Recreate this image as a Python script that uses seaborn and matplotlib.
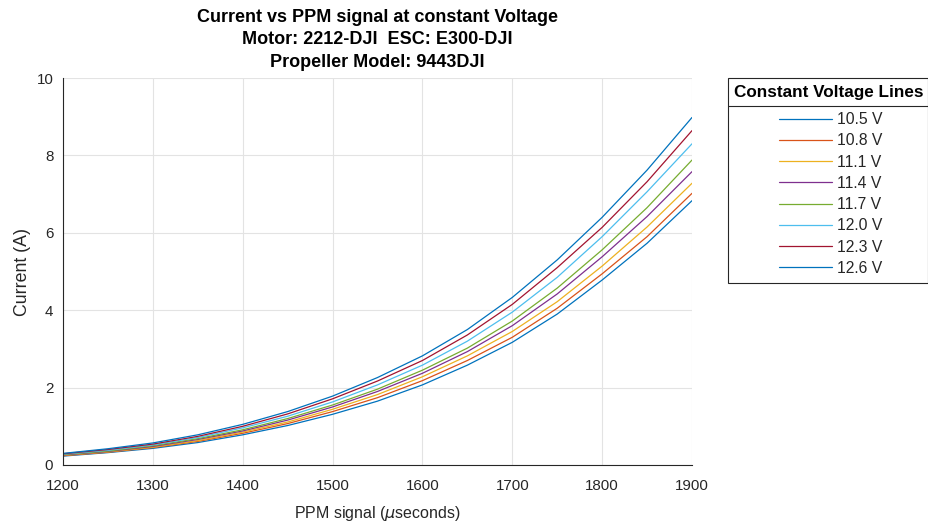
import numpy as np
import pandas as pd
import matplotlib
matplotlib.use("Agg")
import matplotlib.pyplot as plt
import seaborn as sns
from matplotlib.patches import Rectangle
from matplotlib.lines import Line2D

# ---- data ----
ppm = [1200, 1250, 1300, 1350, 1400, 1450, 1500, 1550, 1600, 1650, 1700, 1750, 1800, 1850, 1900]
voltages = ["10.5 V", "10.8 V", "11.1 V", "11.4 V", "11.7 V", "12.0 V", "12.3 V", "12.6 V"]
i_105 = [0.23, 0.32, 0.43, 0.58, 0.78, 1.02, 1.31, 1.65, 2.07, 2.58, 3.17, 3.90, 4.78, 5.73, 6.83]
i_108 = [0.24, 0.33, 0.45, 0.61, 0.82, 1.07, 1.38, 1.74, 2.18, 2.70, 3.30, 4.05, 4.94, 5.90, 7.02]
i_111 = [0.25, 0.34, 0.46, 0.63, 0.85, 1.11, 1.44, 1.82, 2.28, 2.82, 3.45, 4.22, 5.14, 6.15, 7.28]
i_114 = [0.26, 0.35, 0.48, 0.66, 0.88, 1.16, 1.50, 1.90, 2.37, 2.93, 3.60, 4.42, 5.38, 6.42, 7.58]
i_117 = [0.27, 0.36, 0.50, 0.68, 0.91, 1.20, 1.55, 1.96, 2.45, 3.02, 3.72, 4.57, 5.56, 6.65, 7.88]
i_120 = [0.28, 0.38, 0.52, 0.71, 0.96, 1.26, 1.63, 2.07, 2.58, 3.20, 3.95, 4.85, 5.90, 7.06, 8.30]
i_123 = [0.29, 0.40, 0.54, 0.74, 1.00, 1.32, 1.71, 2.17, 2.70, 3.36, 4.15, 5.10, 6.14, 7.32, 8.64]
i_126 = [0.30, 0.42, 0.57, 0.78, 1.05, 1.38, 1.78, 2.26, 2.82, 3.50, 4.33, 5.30, 6.40, 7.62, 8.98]
series = [i_105, i_108, i_111, i_114, i_117, i_120, i_123, i_126]
colors = ["#0072BD", "#D95319", "#EDB120", "#7E2F8E", "#77AC30", "#4DBEEE", "#A2142F", "#0072BD"]

rows = []
for v, vals in zip(voltages, series):
    for x, y in zip(ppm, vals):
        rows.append({"ppm": x, "current": y, "voltage": v})
df = pd.DataFrame(rows)

sns.set_theme(style="white")
plt.rcParams["font.family"] = ["Liberation Sans", "DejaVu Sans"]
plt.rcParams["mathtext.fontset"] = "dejavusans"

W, H = 929, 527
fig = plt.figure(figsize=(W / 100, H / 100), dpi=100)
ax = fig.add_axes([63 / W, 1 - 465 / H, (692 - 63) / W, (465 - 78) / H])

sns.lineplot(data=df, x="ppm", y="current", hue="voltage", hue_order=voltages,
             palette=colors, linewidth=0.9, ax=ax, legend=False)

ax.set_xlim(1200, 1900)
ax.set_ylim(0, 10)
ax.set_xticks(range(1200, 1901, 100))
ax.set_yticks(range(0, 11, 2))
ax.grid(True, color="#e3e3e3", linewidth=0.8)
ax.set_axisbelow(True)
for s in ["top", "right"]:
    ax.spines[s].set_visible(False)
for s in ["left", "bottom"]:
    ax.spines[s].set_color("#262626")
    ax.spines[s].set_linewidth(0.8)
ax.tick_params(direction="in", length=4, width=0.8, color="#262626",
               labelsize=10.9, labelcolor="#262626", pad=7)
ax.tick_params(axis="x", pad=10)
ax.set_xlabel(r"PPM signal ($\mu$seconds)", fontsize=11.5, color="#262626", labelpad=8)
ax.set_ylabel("Current (A)", fontsize=12.8, color="#262626", labelpad=4)
ax.set_title("Current vs PPM signal at constant Voltage\nMotor: 2212-DJI  ESC: E300-DJI\nPropeller Model: 9443DJI",
             fontsize=13, fontweight="bold", color="black", linespacing=1.42, pad=8)

# legend box
bx0, bx1, by_top, by_bot = 728, 928, 78, 283
fig.patches.append(Rectangle((bx0 / W, 1 - by_bot / H), (bx1 - bx0) / W, (by_bot - by_top) / H,
                             transform=fig.transFigure, facecolor="white", edgecolor="#262626",
                             linewidth=0.8, zorder=5))
fig.text((bx0 + bx1) / 2 / W + 1 / W, 1 - 92 / H, "Constant Voltage Lines", ha="center", va="center",
         fontsize=12.3, fontweight="bold", color="black", zorder=6)
fig.lines.append(Line2D([bx0 / W, bx1 / W], [1 - 105.5 / H, 1 - 105.5 / H], transform=fig.transFigure,
                        color="#262626", linewidth=0.8, zorder=6))
handles = [Line2D([], [], color=c, linewidth=0.9) for c in colors]
leg = fig.legend(handles, voltages, loc="upper left", bbox_to_anchor=(779 / W, 1 - 112 / H),
                 frameon=False, fontsize=11.3, handlelength=3.4, handletextpad=0.3,
                 labelspacing=0.40, borderaxespad=0, borderpad=0)
leg.set_zorder(7)
for t in leg.get_texts():
    t.set_color("#262626")

fig.savefig("out.png", dpi=100, facecolor="white")
